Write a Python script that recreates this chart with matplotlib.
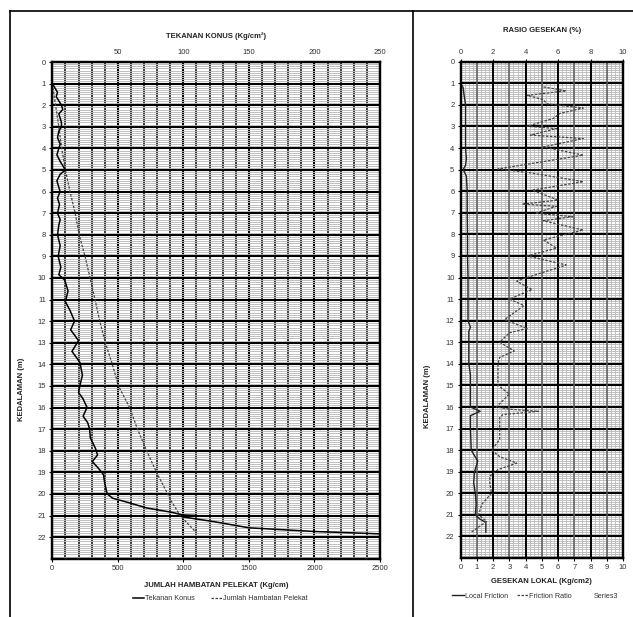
"""
Grafik sondir: Tekanan Konus / Jumlah Hambatan Pelekat (kiri)
dan Gesekan Lokal / Rasio Gesekan (kanan) terhadap kedalaman.
"""

import matplotlib
matplotlib.use("Agg")
import matplotlib.pyplot as plt
from matplotlib.lines import Line2D
from matplotlib.ticker import MultipleLocator

plt.rcParams["font.family"] = ["Liberation Sans", "DejaVu Sans"]

# DATA

# Tekanan Konus (kg/cm2) - sumbu atas 0..250
depth_qc = [1.0, 1.2, 1.4, 1.6, 1.8, 2.0, 2.2, 2.4, 2.6, 2.8, 3.0, 3.2, 3.5, 3.8,
            4.0, 4.3, 4.6, 5.0, 5.2, 5.5, 5.8, 6.0, 6.3, 6.6, 7.0, 7.3, 7.55, 8.0,
            8.5, 9.0, 9.5, 9.85, 10.1, 10.6, 11.1, 11.5, 12.0, 12.4, 12.9, 13.4,
            13.9, 14.5, 15.0, 15.3, 15.6, 16.0, 16.4, 16.7, 17.0, 17.4, 17.9, 18.2,
            18.5, 18.8, 19.1, 19.5, 19.9, 20.0, 20.2, 20.4, 20.65, 20.86, 20.97,
            21.0, 21.07, 21.28, 21.57, 21.74, 21.85]
qc = [0, 2, 4, 3, 5, 7, 8, 5, 6, 7, 7, 5, 4, 6,
      5, 3.5, 6, 10, 6, 3.5, 5, 6, 4, 5.5, 4, 6, 5, 4,
      6, 4.5, 6.5, 5, 9.5, 12, 10, 13.5, 17, 14, 20, 15,
      21, 23, 21, 20, 23.5, 26.5, 23.5, 27, 28.5, 29, 33, 34.5,
      30.5, 35, 39, 40, 41.5, 42, 46, 58, 72, 92, 99,
      110, 100, 123, 150, 200, 250]

# Jumlah Hambatan Pelekat (kg/cm) - sumbu bawah 0..2500
depth_jhp = [1.0, 2.0, 3.0, 4.0, 5.0, 6.0, 7.0, 8.0, 9.0, 10.0, 11.0, 12.0, 13.0,
             14.0, 15.0, 16.0, 17.0, 18.0, 19.0, 20.0, 20.3, 21.0, 21.8]
jhp = [0, 25, 50, 72, 100, 135, 175, 205, 250, 288, 326, 362, 405,
       458, 505, 590, 650, 720, 795, 880, 905, 975, 1100]

# Gesekan Lokal (kg/cm2) - sumbu bawah 0..10
depth_fs = [1.0, 1.2, 1.5, 2.0, 3.0, 4.0, 4.5, 4.8, 5.0, 5.3, 6.0, 7.0, 8.0, 9.0,
            10.0, 11.0, 12.0, 12.3, 12.5, 13.0, 14.0, 14.5, 16.0, 16.2, 16.4, 17.0,
            18.0, 18.5, 19.0, 19.5, 20.0, 20.5, 21.0, 21.2, 21.35, 21.8]
fs = [0, 0.15, 0.2, 0.3, 0.3, 0.3, 0.35, 0.3, 0.15, 0.35, 0.4, 0.4, 0.42, 0.42,
      0.45, 0.45, 0.45, 0.6, 0.5, 0.5, 0.5, 0.6, 0.6, 1.2, 0.6, 0.6,
      0.65, 1.05, 0.85, 0.8, 0.9, 0.95, 0.9, 1.2, 1.55, 1.55]

# Rasio Gesekan (%) - sumbu atas 0..10
depth_fr = [1.17, 1.35, 1.56, 1.76, 1.95, 2.15, 2.4, 2.63, 2.99, 3.1, 3.4, 3.56,
            3.95, 4.33, 4.97, 5.15, 5.56, 5.95, 6.41, 6.6, 6.7, 7.02, 7.18, 7.37,
            7.8, 8.26, 8.64, 9.0, 9.42, 10.02, 10.17, 10.56, 11.0, 11.3, 11.95,
            12.36, 12.56, 13.0, 13.4, 13.7, 14.0, 14.5, 15.0, 15.4, 16.0, 16.1,
            16.2, 16.35, 16.5, 17.0, 17.5, 18.0, 18.3, 18.6, 18.9, 19.2, 19.5,
            20.0, 20.5, 21.0, 21.3, 21.8]
fr = [5.1, 6.5, 4.1, 5.1, 5.3, 7.55, 6.1, 5.7, 4.1, 5.9, 4.3, 7.55,
      5.1, 7.55, 2.3, 4.3, 7.55, 4.4, 6.0, 3.8, 5.9, 4.6, 6.9, 5.1,
      7.55, 5.1, 5.9, 4.1, 6.5, 4.0, 3.45, 4.4, 3.0, 3.9, 2.7,
      4.1, 3.0, 2.4, 3.3, 2.4, 2.3, 2.3, 2.3, 3.0, 2.2, 3.0,
      4.8, 2.6, 2.4, 2.4, 2.4, 1.9, 2.4, 3.45, 2.3, 1.8, 1.8,
      1.9, 1.3, 1.1, 1.6, 0.65]

depth_ticks = list(range(0, 23))

TXT = "#333333"
LBL = dict(fontsize=5.5, fontweight="bold", color="#222222")


def siapkan_grid(ax, xmin_step, xmaj_step, minor_v_color, minor_v_lw, fine_step=None):
    ax.set_ylim(23, 0)
    ax.set_yticks(depth_ticks)
    ax.yaxis.set_minor_locator(MultipleLocator(0.1))
    ax.xaxis.set_minor_locator(MultipleLocator(xmin_step))
    ax.xaxis.set_major_locator(MultipleLocator(xmaj_step))
    ax.grid(which="minor", axis="y", color="#bababa", lw=0.65)
    if fine_step is not None:
        # garis vertikal halus (hanya panel kanan)
        for xv in [i * fine_step for i in range(int(10 / fine_step) + 1)]:
            ax.axvline(xv, color="#bdbdbd", lw=0.65, zorder=1.2)
    ax.grid(which="minor", axis="x", color=minor_v_color, lw=minor_v_lw)
    ax.grid(which="major", axis="both", color="black", lw=1.5)
    ax.tick_params(which="minor", length=0)
    ax.tick_params(which="major", length=2.5, width=0.8, pad=2,
                   labelsize=5.5, labelcolor=TXT)
    for s in ax.spines.values():
        s.set_linewidth(1.6)


fig = plt.figure(figsize=(6.33, 6.17), dpi=100)

# >>>> Panel kiri
ax = fig.add_axes([0.0826, 0.0945, 0.5177, 0.8050])
ax.set_xlim(0, 2500)
siapkan_grid(ax, 100, 500, "#2e2e2e", 1.3)
ax.set_xticks([0, 500, 1000, 1500, 2000, 2500])
l_jhp, = ax.plot(jhp, depth_jhp, color="#444444", lw=0.9, ls=(0, (2, 1.2)), zorder=3)
ax.set_xlabel("JUMLAH HAMBATAN PELEKAT (Kg/cm)", labelpad=7, **LBL)
ax.set_ylabel("KEDALAMAN (m)", **LBL)
ax.yaxis.set_label_coords(-0.083, 0.342)

ax_top = ax.twiny()
ax_top.set_xlim(0, 250)
ax_top.set_xticks([50, 100, 150, 200, 250])
ax_top.tick_params(length=0, pad=4, labelsize=5.5, labelcolor=TXT)
l_qc, = ax_top.plot(qc, depth_qc, color="black", lw=1.1, zorder=4, clip_on=True)
ax_top.set_xlabel("TEKANAN KONUS (Kg/cm²)", labelpad=8, **LBL)
for s in ax_top.spines.values():
    s.set_linewidth(1.6)

ax.legend([l_qc, l_jhp], ["Tekanan Konus", "Jumlah Hambatan Pelekat"],
          loc="center", bbox_to_anchor=(0.512, -0.081), ncol=2, frameon=False,
          fontsize=5.2, handlelength=1.6, handletextpad=0.1, columnspacing=2.2,
          labelcolor=TXT)

# >>>> Panel kanan
axr = fig.add_axes([0.7278, 0.0955, 0.2564, 0.8045])
axr.set_xlim(0, 10)
siapkan_grid(axr, 1, 2, "#6a6a6a", 1.0, fine_step=0.25)
axr.set_xticks(range(0, 11))
axr.set_xticklabels([str(i) for i in range(0, 11)])
# garis tebal hanya pada kelipatan 2
axr.grid(which="major", axis="x", visible=False)
for xv in range(0, 11, 2):
    axr.axvline(xv, color="black", lw=1.4, zorder=1.6)
for xv in range(1, 11, 2):
    axr.axvline(xv, color="#5a5a5a", lw=1.1, zorder=1.55)
l_fs, = axr.plot(fs, depth_fs, color="#222222", lw=1.0, zorder=4)
axr.set_xlabel("GESEKAN LOKAL (Kg/cm2)", labelpad=5, **LBL)
axr.set_ylabel("KEDALAMAN (m)", **LBL)
axr.yaxis.set_label_coords(-0.183, 0.326)

axr_top = axr.twiny()
axr_top.set_xlim(0, 10)
axr_top.set_xticks([0, 2, 4, 6, 8, 10])
axr_top.tick_params(length=2, pad=2, labelsize=5.5, labelcolor=TXT)
l_fr, = axr_top.plot(fr, depth_fr, color="#444444", lw=0.9, ls=(0, (2, 1.2)), zorder=3)
axr_top.set_xlabel("RASIO GESEKAN (%)", labelpad=12, **LBL)
for s in axr_top.spines.values():
    s.set_linewidth(1.6)

seri3 = Line2D([], [], color="none")
axr.legend([l_fs, l_fr, seri3], ["Local Friction", "Friction Ratio", "Series3"],
           loc="center", bbox_to_anchor=(0.46, -0.077), ncol=3, frameon=False,
           fontsize=5.2, handlelength=1.6, handletextpad=0.1, columnspacing=1.3,
           labelcolor=TXT)

# >>>> Bingkai halaman
y_top = 1 - 11 / 617
fig.add_artist(Line2D([10 / 633, 1], [y_top, y_top], color="black", lw=1.2))
fig.add_artist(Line2D([10 / 633, 10 / 633], [0, y_top], color="black", lw=1.2))
fig.add_artist(Line2D([413 / 633, 413 / 633], [0, y_top], color="black", lw=1.2))

fig.savefig("out.png", dpi=100)
